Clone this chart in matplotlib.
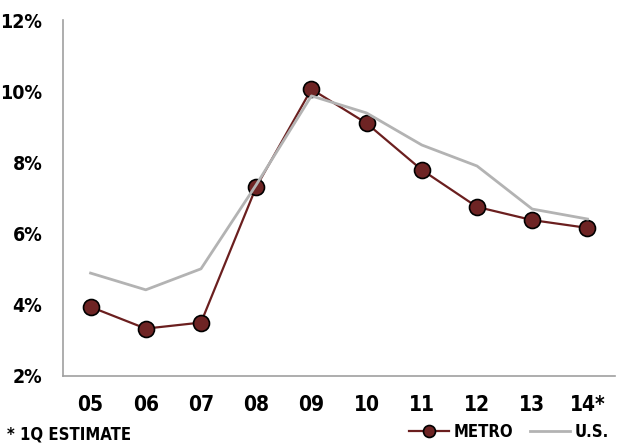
import matplotlib
matplotlib.use("Agg")
import matplotlib.pyplot as plt
from matplotlib.ticker import FuncFormatter

# values (percent)
years = ["05", "06", "07", "08", "09", "10", "11", "12", "13", "14*"]
metro = [3.94, 3.33, 3.50, 7.31, 10.06, 9.10, 7.79, 6.75, 6.38, 6.16]
us = [4.89, 4.42, 5.01, 7.37, 9.87, 9.39, 8.49, 7.90, 6.69, 6.41]
yticks = [2, 4, 6, 8, 10, 12]

plt.rcParams['font.family'] = ['DejaVu Sans']
plt.rcParams['font.stretch'] = 'condensed'
plt.rcParams['font.weight'] = 'bold'

fig = plt.figure(figsize=(6.21, 4.47), dpi=100)
ax = fig.add_axes([0.1014, 0.159, 0.889, 0.796])

x = list(range(len(years)))
ax.plot(x, metro, color='#6b1f1f', lw=1.6, marker='o', ms=11.5,
        mfc='#6e2424', mec='black', mew=1.2, label='METRO', zorder=2)
ax.plot(x, us, color='#b3b3b3', lw=2.0, label='U.S.', zorder=3)

ax.set_xlim(-0.5, len(years) - 0.5)
ax.set_ylim(2, 12)
ax.set_yticks(yticks)
ax.yaxis.set_major_formatter(FuncFormatter(lambda v, p: f"{v:.0f}%"))
ax.set_xticks(x)
ax.set_xticklabels(years)
ax.tick_params(axis='x', length=0, labelsize=15, pad=14)
ax.tick_params(axis='y', length=0, labelsize=14, pad=15)

for s in ['top', 'right']:
    ax.spines[s].set_visible(False)
for s in ['left', 'bottom']:
    ax.spines[s].set_color('#a0a0a0')
    ax.spines[s].set_linewidth(1.2)

fig.text(0.012, 0.008, "* 1Q ESTIMATE", fontsize=12, ha='left', va='bottom')
fig.legend(loc='lower right', bbox_to_anchor=(1.005, -0.02), ncol=2, frameon=False,
           fontsize=12, handlelength=2.4, handletextpad=0.3, columnspacing=1.0,
           markerscale=0.75)

fig.savefig("out.png", dpi=100)
